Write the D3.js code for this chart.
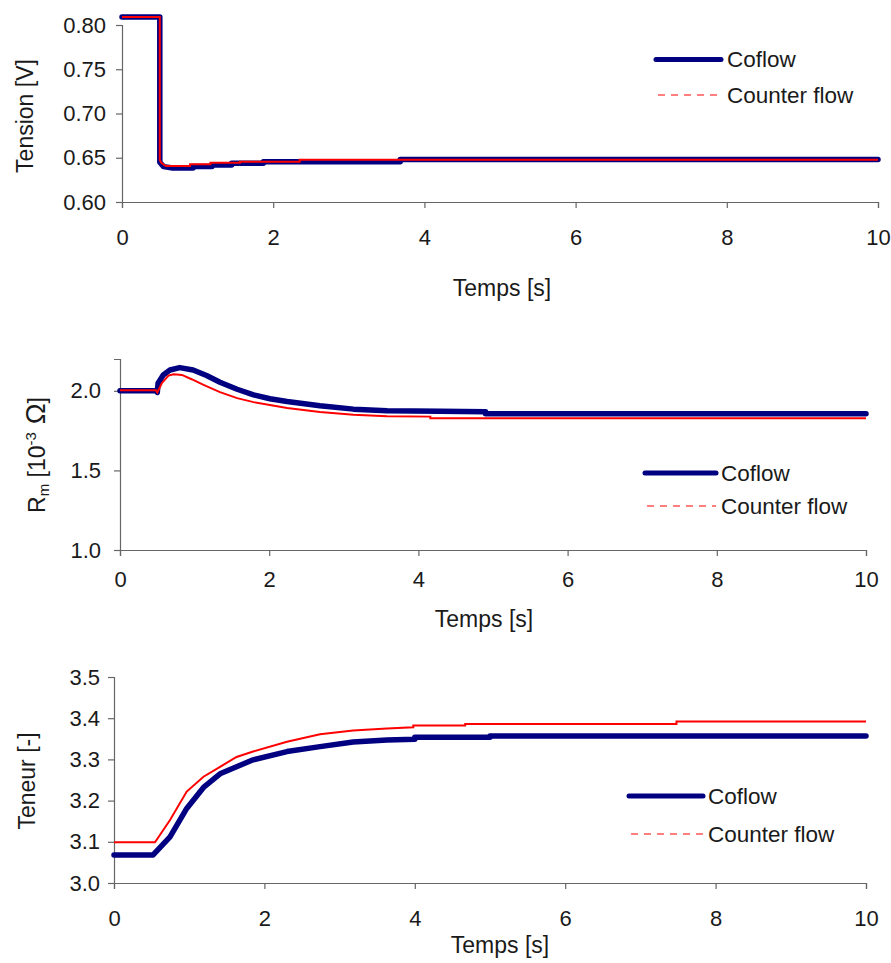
<!DOCTYPE html>
<html>
<head>
<meta charset="utf-8">
<script src="https://cdn.jsdelivr.net/npm/d3@7"></script>
<style>
  html, body { margin: 0; padding: 0; background: #fff; }
  svg { display: block; font-family: "Liberation Sans", Arial, sans-serif; }
</style>
</head>
<body>
<svg id="chart" width="891" height="963"></svg>
<script>
// ---------- Data ----------
const xTicks = [0, 2, 4, 6, 8, 10];
const seriesNames = ["Coflow", "Counter flow"];

// Tension [V]
const tensionTicks = [0.60, 0.65, 0.70, 0.75, 0.80];
const tensionCoflow = [
  [0, 0.809], [0.5, 0.809], [0.5, 0.645], [0.55, 0.640], [0.67, 0.6384], [0.94, 0.6384],
  [0.94, 0.640], [1.19, 0.640], [1.19, 0.6418], [1.45, 0.6418], [1.45, 0.6437], [1.87, 0.6437],
  [1.87, 0.6455], [3.68, 0.6455], [3.68, 0.6481], [10, 0.6481]
];
const tensionCounter = [
  [0, 0.809], [0.5, 0.809], [0.5, 0.6475], [0.52, 0.6444], [0.58, 0.6407], [0.9, 0.6407],
  [0.9, 0.6426], [1.17, 0.6426], [1.17, 0.6444], [1.56, 0.6444], [1.56, 0.6455], [2.35, 0.6455],
  [2.35, 0.6478], [10, 0.6478]
];

// Rm [10^-3 Ohm]
const rmTicks = [1.0, 1.5, 2.0];
const rmCoflow = [
  [0, 2.0], [0.48, 2.0], [0.5, 1.99], [0.51, 2.048], [0.58, 2.10], [0.67, 2.131], [0.80, 2.146],
  [0.98, 2.131], [1.16, 2.096], [1.34, 2.054], [1.57, 2.01], [1.79, 1.975], [2.01, 1.95],
  [2.24, 1.933], [2.68, 1.906], [3.13, 1.885], [3.58, 1.875], [4.29, 1.871], [4.9, 1.869],
  [4.9, 1.856], [10, 1.856]
];
const rmCounter = [
  [0, 2.004], [0.48, 2.004], [0.5, 1.99], [0.56, 2.048], [0.65, 2.096], [0.72, 2.104],
  [0.83, 2.10], [0.96, 2.073], [1.12, 2.0375], [1.34, 1.992], [1.57, 1.954], [1.79, 1.929],
  [2.24, 1.892], [2.68, 1.867], [3.13, 1.85], [3.58, 1.84], [4.16, 1.838], [4.16, 1.828],
  [10, 1.828]
];

// Teneur [-]
const teneurTicks = [3.0, 3.1, 3.2, 3.3, 3.4, 3.5];
const teneurCoflow = [
  [0, 3.068], [0.52, 3.068], [0.745, 3.112], [0.967, 3.181], [1.19, 3.232], [1.41, 3.265],
  [1.63, 3.282], [1.85, 3.299], [2.30, 3.319], [2.74, 3.331], [3.18, 3.342], [3.63, 3.347],
  [4.0, 3.349], [4.0, 3.354], [5.0, 3.354], [5.0, 3.357], [10, 3.357]
];
const teneurCounter = [
  [0, 3.099], [0.545, 3.099], [0.745, 3.153], [0.967, 3.222], [1.19, 3.258], [1.41, 3.282],
  [1.63, 3.306], [1.85, 3.319], [2.30, 3.343], [2.74, 3.361], [3.18, 3.370], [3.63, 3.375],
  [3.98, 3.378], [3.98, 3.382], [4.67, 3.382], [4.67, 3.386], [7.48, 3.386], [7.48, 3.392],
  [10, 3.392]
];

// ---------- Drawing ----------
const svg = d3.select("#chart");
const TEXT = "#1a1a1a";
const AXIS = "#666";
const BLUE = "#000080";
const RED = "#ff0000";
const TICK_FS = "22px";
const TITLE_FS = "23px";
const LEG_FS = "22.5px";

function drawPanel(cfg) {
  const x = d3.scaleLinear().domain([0, 10]).range([cfg.x0, cfg.x1]);
  const y = d3.scaleLinear().domain(cfg.yDomain).range([cfg.yBottom, cfg.yTop]);
  const g = svg.append("g");

  const xa = g.append("g").attr("transform", `translate(0,${cfg.yBottom})`)
    .call(d3.axisBottom(x).tickValues(xTicks).tickFormat(d3.format("d")).tickSize(6).tickPadding(cfg.xPad));
  const ya = g.append("g").attr("transform", `translate(${cfg.x0},0)`)
    .call(d3.axisLeft(y).tickValues(cfg.yTicks).tickFormat(d3.format(cfg.yFmt)).tickSize(6).tickPadding(cfg.yPad));
  [xa, ya].forEach(a => {
    a.select(".domain").attr("stroke", AXIS).attr("stroke-width", 1.2);
    a.selectAll(".tick line").attr("stroke", AXIS).attr("stroke-width", 1.2);
    a.selectAll(".tick text").attr("fill", TEXT).style("font-size", TICK_FS)
      .style("font-family", '"Liberation Sans", Arial, sans-serif');
  });

  const line = d3.line().x(d => x(d[0])).y(d => y(d[1]));
  g.append("path").datum(cfg.coflow).attr("d", line)
    .attr("fill", "none").attr("stroke", BLUE).attr("stroke-width", 5.5)
    .attr("stroke-linejoin", "round").attr("stroke-linecap", "round");
  g.append("path").datum(cfg.counter).attr("d", line)
    .attr("fill", "none").attr("stroke", RED).attr("stroke-width", 2);

  g.append("text").attr("x", cfg.xTitleX).attr("y", cfg.xTitleY)
    .attr("text-anchor", "middle").attr("fill", TEXT).style("font-size", TITLE_FS)
    .text("Temps [s]");

  const L = cfg.legend;
  g.append("line").attr("x1", L.x0).attr("x2", L.x1).attr("y1", L.y1).attr("y2", L.y1)
    .attr("stroke", BLUE).attr("stroke-width", 5).attr("stroke-linecap", "round");
  g.append("line").attr("x1", L.x0 + 2).attr("x2", L.x1).attr("y1", L.y2).attr("y2", L.y2)
    .attr("stroke", RED).attr("stroke-width", 1.2).attr("stroke-dasharray", "7,6");
  g.append("text").attr("x", L.tx).attr("y", L.y1 + 7.5).attr("fill", TEXT)
    .style("font-size", LEG_FS).text(seriesNames[0]);
  g.append("text").attr("x", L.tx).attr("y", L.y2 + 7.5).attr("fill", TEXT)
    .style("font-size", LEG_FS).text(seriesNames[1]);
  return g;
}

// Panel 1
const p1 = drawPanel({
  x0: 122, x1: 878, yTop: 25, yBottom: 202, yDomain: [0.60, 0.80], yTicks: tensionTicks, yFmt: ".2f", yPad: 10,
  coflow: tensionCoflow, counter: tensionCounter, xPad: 21, xTitleX: 502, xTitleY: 296,
  legend: { x0: 656, x1: 721, y1: 59.5, y2: 95, tx: 727 }
});
p1.append("text").attr("transform", "translate(33,116) rotate(-90)").attr("text-anchor", "middle")
  .attr("fill", TEXT).style("font-size", TITLE_FS).text("Tension [V]");

// Panel 2
const p2 = drawPanel({
  x0: 120, x1: 866, yTop: 359, yBottom: 550, yDomain: [1.0, 2.2], yTicks: rmTicks, yFmt: ".1f", yPad: 13,
  coflow: rmCoflow, counter: rmCounter, xPad: 15, xTitleX: 484, xTitleY: 627,
  legend: { x0: 645, x1: 716, y1: 473, y2: 506, tx: 721 }
});
const rl = p2.append("text").attr("transform", "translate(45,455) rotate(-90)").attr("text-anchor", "middle")
  .attr("fill", TEXT).style("font-size", TITLE_FS);
rl.append("tspan").text("R");
rl.append("tspan").attr("dy", 4).style("font-size", "15px").text("m");
rl.append("tspan").attr("dy", -4).text(" [10");
rl.append("tspan").attr("dy", -9).style("font-size", "15px").text("-3");
rl.append("tspan").attr("dy", 9).style("font-size", "28px").text(" Ω");
rl.append("tspan").text("]");

// Panel 3
const p3 = drawPanel({
  x0: 114, x1: 866, yTop: 677, yBottom: 883, yDomain: [3.0, 3.5], yTicks: teneurTicks, yFmt: ".1f", yPad: 8,
  coflow: teneurCoflow, counter: teneurCounter, xPad: 21, xTitleX: 500, xTitleY: 953,
  legend: { x0: 629, x1: 703, y1: 796, y2: 834, tx: 708 }
});
p3.append("text").attr("transform", "translate(35,781) rotate(-90)").attr("text-anchor", "middle")
  .attr("fill", TEXT).style("font-size", TITLE_FS).text("Teneur  [-]");
</script>
</body>
</html>
